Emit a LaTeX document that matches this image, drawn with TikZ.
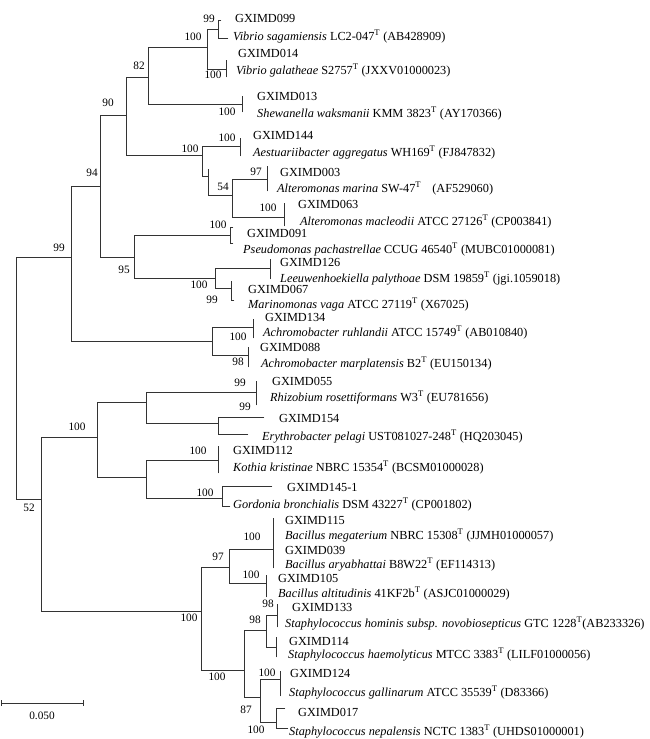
\documentclass[tikz,border=0pt]{standalone}
\usepackage{fontspec}
\setmainfont{Liberation Serif}
\begin{document}
\begin{tikzpicture}[x=1pt,y=-1pt,
  br/.style={draw=black!80, line width=0.7pt, line cap=rect},
  leaf/.style={anchor=west, inner sep=0pt, text height=8.1pt, text depth=0pt, font=\fontsize{12.3}{14}\selectfont},
  bs/.style={inner sep=0pt, text height=7.5pt, text depth=0pt, font=\fontsize{11.3}{12}\selectfont}]
\useasboundingbox (0,0) rectangle (650,739);
\newcommand{\Ts}{\textsuperscript{T}}
% internal nodes (x, entry y)
\coordinate (R) at (16,378);
\coordinate (N99) at (71,257);
\coordinate (N52) at (41,499);
\coordinate (N94) at (100,186);
\coordinate (NAch) at (212,341);
\coordinate (N90) at (126,115);
\coordinate (N95) at (134,257);
\coordinate (N82) at (148,77);
\coordinate (NAlt) at (202,155);
\coordinate (NVib) at (207,47);
\coordinate (PShe) at (242,104);
\coordinate (P099) at (218,29);
\coordinate (P014) at (226,69);
\coordinate (PAes) at (240,146);
\coordinate (NAltB) at (208,176);
\coordinate (NAltT) at (208,169);
\coordinate (N54) at (232,195);
\coordinate (P003) at (267,179);
\coordinate (P063) at (284,217);
\coordinate (PPse) at (230,235);
\coordinate (NLM) at (215,278);
\coordinate (P126) at (270,268);
\coordinate (P067) at (231,288);
\coordinate (P134) at (253,327);
\coordinate (P088) at (248,355);
\coordinate (NUp) at (97,437);
\coordinate (NBS) at (201,611);
\coordinate (NRE) at (146,402);
\coordinate (NKG) at (146,477);
\coordinate (PRhi) at (256,392);
\coordinate (NEry) at (218,423);
\coordinate (PKot) at (218,460);
\coordinate (NGor) at (222,498);
\coordinate (NB97) at (229,567);
\coordinate (NSt) at (244,670);
\coordinate (NBac) at (273,549);
\coordinate (P105) at (266,583);
\coordinate (N98) at (266,630);
\coordinate (N87) at (260,697);
\coordinate (P133) at (277,615);
\coordinate (P114) at (276,647);
\coordinate (P124) at (280,679);
\coordinate (NSN) at (276,722);
% tip ends
\coordinate (e099a) at (221,20);  \coordinate (e099b) at (228,38);
\coordinate (e014a) at (226,60);  \coordinate (e014b) at (226,77);
\coordinate (eShea) at (242,96);  \coordinate (eSheb) at (242,112);
\coordinate (eAesa) at (240,138); \coordinate (eAesb) at (240,156);
\coordinate (e003a) at (267,166); \coordinate (e003b) at (267,191);
\coordinate (e063a) at (284,203); \coordinate (e063b) at (284,226);
\coordinate (ePsea) at (233,227); \coordinate (ePseb) at (233,243);
\coordinate (e126a) at (270,259); \coordinate (e126b) at (270,279);
\coordinate (e067a) at (231,281); \coordinate (e067b) at (234,300);
\coordinate (e134a) at (253,319); \coordinate (e134b) at (253,338);
\coordinate (e088a) at (248,347); \coordinate (e088b) at (248,367);
\coordinate (eRhia) at (256,381); \coordinate (eRhib) at (256,405);
\coordinate (eErya) at (264,417); \coordinate (eEryb) at (248,434);
\coordinate (eKota) at (218,446); \coordinate (eKotb) at (218,473);
\coordinate (eGora) at (272,486); \coordinate (eGorb) at (230,506);
\coordinate (eBaca) at (273,518); \coordinate (eBacb) at (273,568);
\coordinate (e105a) at (266,575); \coordinate (e105b) at (266,597);
\coordinate (e133a) at (277,604); \coordinate (e133b) at (277,627);
\coordinate (e114a) at (276,637); \coordinate (e114b) at (276,657);
\coordinate (e124a) at (280,671); \coordinate (e124b) at (280,696);
\coordinate (eSNa) at (285,708);  \coordinate (eSNb) at (288,728);
% branches
\draw[br] (R) |- (N99);   \draw[br] (R) |- (N52);
\draw[br] (N99) |- (N94); \draw[br] (N99) |- (NAch);
\draw[br] (N94) |- (N90); \draw[br] (N94) |- (N95);
\draw[br] (N90) |- (N82); \draw[br] (N90) |- (NAlt);
\draw[br] (N82) |- (NVib); \draw[br] (N82) |- (PShe);
\draw[br] (NVib) |- (P099); \draw[br] (NVib) |- (P014);
\draw[br] (P099) |- (e099a); \draw[br] (P099) |- (e099b);
\draw[br] (P014) -- (e014a); \draw[br] (P014) -- (e014b);
\draw[br] (PShe) -- (eShea); \draw[br] (PShe) -- (eSheb);
\draw[br] (NAlt) |- (PAes); \draw[br] (NAlt) |- (NAltB);
\draw[br] (PAes) -- (eAesa); \draw[br] (PAes) -- (eAesb);
\draw[br] (NAltT) -- (NAltB); \draw[br] (NAltB) |- (N54);
\draw[br] (N54) |- (P003); \draw[br] (N54) |- (P063);
\draw[br] (P003) -- (e003a); \draw[br] (P003) -- (e003b);
\draw[br] (P063) -- (e063a); \draw[br] (P063) -- (e063b);
\draw[br] (N95) |- (PPse); \draw[br] (N95) |- (NLM);
\draw[br] (PPse) |- (ePsea); \draw[br] (PPse) |- (ePseb);
\draw[br] (NLM) |- (P126); \draw[br] (NLM) |- (P067);
\draw[br] (P126) -- (e126a); \draw[br] (P126) -- (e126b);
\draw[br] (P067) -- (e067a); \draw[br] (P067) |- (e067b);
\draw[br] (NAch) |- (P134); \draw[br] (NAch) |- (P088);
\draw[br] (P134) -- (e134a); \draw[br] (P134) -- (e134b);
\draw[br] (P088) -- (e088a); \draw[br] (P088) -- (e088b);
\draw[br] (N52) |- (NUp); \draw[br] (N52) |- (NBS);
\draw[br] (NUp) |- (NRE); \draw[br] (NUp) |- (NKG);
\draw[br] (NRE) |- (PRhi); \draw[br] (NRE) |- (NEry);
\draw[br] (PRhi) -- (eRhia); \draw[br] (PRhi) -- (eRhib);
\draw[br] (NEry) |- (eErya); \draw[br] (NEry) |- (eEryb);
\draw[br] (NKG) |- (PKot); \draw[br] (NKG) |- (NGor);
\draw[br] (PKot) -- (eKota); \draw[br] (PKot) -- (eKotb);
\draw[br] (NGor) |- (eGora); \draw[br] (NGor) |- (eGorb);
\draw[br] (NBS) |- (NB97); \draw[br] (NBS) |- (NSt);
\draw[br] (NB97) |- (NBac); \draw[br] (NB97) |- (P105);
\draw[br] (NBac) -- (eBaca); \draw[br] (NBac) -- (eBacb);
\draw[br] (P105) -- (e105a); \draw[br] (P105) -- (e105b);
\draw[br] (NSt) |- (N98); \draw[br] (NSt) |- (N87);
\draw[br] (N98) |- (P133); \draw[br] (N98) |- (P114);
\draw[br] (P133) -- (e133a); \draw[br] (P133) -- (e133b);
\draw[br] (P114) -- (e114a); \draw[br] (P114) -- (e114b);
\draw[br] (N87) |- (P124); \draw[br] (N87) |- (NSN);
\draw[br] (P124) -- (e124a); \draw[br] (P124) -- (e124b);
\draw[br] (NSN) |- (eSNa); \draw[br] (NSN) |- (eSNb);
% bootstrap values
\node[bs] (b1) at (209,19) {99};
\node[bs] (b2) at (193,37) {100};
\node[bs] (b3) at (213,75) {100};
\node[bs] (b4) at (139,66) {82};
\node[bs] (b5) at (227,112) {100};
\node[bs] (b6) at (108,103) {90};
\node[bs] (b7) at (227,138) {100};
\node[bs] (b8) at (190,149) {100};
\node[bs] (b9) at (256,172) {97};
\node[bs] (b10) at (223,187) {54};
\node[bs] (b11) at (268,208) {100};
\node[bs] (b12) at (92,173) {94};
\node[bs] (b13) at (218,225) {100};
\node[bs] (b14) at (59,248) {99};
\node[bs] (b15) at (124,270) {95};
\node[bs] (b16) at (199,285) {100};
\node[bs] (b17) at (212,300) {99};
\node[bs] (b18) at (238,337) {100};
\node[bs] (b19) at (238,362) {98};
\node[bs] (b20) at (240,383) {99};
\node[bs] (b21) at (245,407) {99};
\node[bs] (b22) at (77,427) {100};
\node[bs] (b23) at (198,451) {100};
\node[bs] (b24) at (205,493) {100};
\node[bs] (b25) at (29,508) {52};
\node[bs] (b26) at (252,537) {100};
\node[bs] (b27) at (218,557) {97};
\node[bs] (b28) at (251,575) {100};
\node[bs] (b29) at (268,604) {98};
\node[bs] (b30) at (255,620) {98};
\node[bs] (b31) at (189,618) {100};
\node[bs] (b32) at (217,677) {100};
\node[bs] (b33) at (267,673) {100};
\node[bs] (b34) at (246,710) {87};
\node[bs] (b35) at (256,730) {100};
% leaves
\node[leaf] (t1) at (235,18) {GXIMD099};
\node[leaf] (t2) at (233,36) {\textit{Vibrio sagamiensis} LC2-047\Ts{} (AB428909)};
\node[leaf] (t3) at (238,53) {GXIMD014};
\node[leaf] (t4) at (236,70) {\textit{Vibrio galatheae} S2757\Ts{} (JXXV01000023)};
\node[leaf] (t5) at (257,96) {GXIMD013};
\node[leaf] (t6) at (257,113) {\textit{Shewanella waksmanii} KMM 3823\Ts{} (AY170366)};
\node[leaf] (t7) at (253,135) {GXIMD144};
\node[leaf] (t8) at (253,152) {\textit{Aestuariibacter aggregatus} WH169\Ts{} (FJ847832)};
\node[leaf] (t9) at (280,172) {GXIMD003};
\node[leaf] (t10) at (277,188) {\textit{Alteromonas marina} SW-47\Ts\hspace{0.9em}(AF529060)};
\node[leaf] (t11) at (298,204) {GXIMD063};
\node[leaf] (t12) at (300,221) {\textit{Alteromonas macleodii} ATCC 27126\Ts{} (CP003841)};
\node[leaf] (t13) at (247,233) {GXIMD091};
\node[leaf] (t14) at (243,249) {\textit{Pseudomonas pachastrellae} CCUG 46540\Ts{} (MUBC01000081)};
\node[leaf] (t15) at (280,262) {GXIMD126};
\node[leaf] (t16) at (280,278) {\textit{Leeuwenhoekiella palythoae} DSM 19859\Ts{} (jgi.1059018)};
\node[leaf] (t17) at (248,289) {GXIMD067};
\node[leaf] (t18) at (248,304) {\textit{Marinomonas vaga} ATCC 27119\Ts{} (X67025)};
\node[leaf] (t19) at (265,317) {GXIMD134};
\node[leaf] (t20) at (263,332) {\textit{Achromobacter ruhlandii} ATCC 15749\Ts{} (AB010840)};
\node[leaf] (t21) at (260,347) {GXIMD088};
\node[leaf] (t22) at (261,363) {\textit{Achromobacter marplatensis} B2\Ts{} (EU150134)};
\node[leaf] (t23) at (272,381) {GXIMD055};
\node[leaf] (t24) at (270,397) {\textit{Rhizobium rosettiformans} W3\Ts{} (EU781656)};
\node[leaf] (t25) at (279,418) {GXIMD154};
\node[leaf] (t26) at (262,436) {\textit{Erythrobacter pelagi} UST081027-248\Ts{} (HQ203045)};
\node[leaf] (t27) at (233,450) {GXIMD112};
\node[leaf] (t28) at (233,467) {\textit{Kothia kristinae} NBRC 15354\Ts{} (BCSM01000028)};
\node[leaf] (t29) at (287,487) {GXIMD145-1};
\node[leaf] (t30) at (233,504) {\textit{Gordonia bronchialis} DSM 43227\Ts{} (CP001802)};
\node[leaf] (t31) at (285,520) {GXIMD115};
\node[leaf] (t32) at (285,535) {\textit{Bacillus megaterium} NBRC 15308\Ts{} (JJMH01000057)};
\node[leaf] (t33) at (285,550) {GXIMD039};
\node[leaf] (t34) at (285,564) {\textit{Bacillus aryabhattai} B8W22\Ts{} (EF114313)};
\node[leaf] (t35) at (278,578) {GXIMD105};
\node[leaf] (t36) at (278,593) {\textit{Bacillus altitudinis} 41KF2b\Ts{} (ASJC01000029)};
\node[leaf] (t37) at (292,607) {GXIMD133};
\node[leaf] (t38) at (285,623) {\textit{Staphylococcus hominis subsp. novobiosepticus} GTC 1228\Ts(AB233326)};
\node[leaf] (t39) at (289,641) {GXIMD114};
\node[leaf] (t40) at (288,654) {\textit{Staphylococcus haemolyticus} MTCC 3383\Ts{} (LILF01000056)};
\node[leaf] (t41) at (290,673) {GXIMD124};
\node[leaf] (t42) at (289,692) {\textit{Staphylococcus gallinarum} ATCC 35539\Ts{} (D83366)};
\node[leaf] (t43) at (298,712) {GXIMD017};
\node[leaf] (t44) at (289,731) {\textit{Staphylococcus nepalensis} NCTC 1383\Ts{} (UHDS01000001)};
% scale bar
\coordinate (sA) at (1,703);
\coordinate (sB) at (83,703);
\draw[br, line cap=butt] (sA) -- (sB);
\draw[br, line cap=butt] ([yshift=3pt]sA) -- ([yshift=-3pt]sA);
\draw[br, line cap=butt] ([yshift=3pt]sB) -- ([yshift=-3pt]sB);
\node[bs] (scale) at (42,716) {0.050};
\end{tikzpicture}
\end{document}
